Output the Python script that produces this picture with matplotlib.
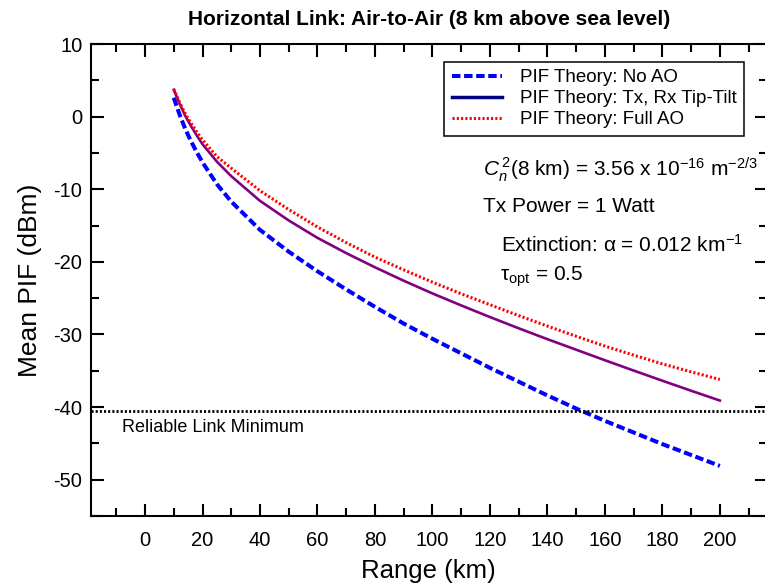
import matplotlib
matplotlib.use("Agg")
import matplotlib.pyplot as plt
from matplotlib.lines import Line2D
from matplotlib.ticker import MultipleLocator

plt.rcParams['font.family'] = ['Liberation Sans', 'DejaVu Sans']
plt.rcParams['mathtext.fontset'] = 'custom'
plt.rcParams['mathtext.rm'] = 'Liberation Sans'
plt.rcParams['mathtext.it'] = 'Liberation Sans:italic'
plt.rcParams['axes.unicode_minus'] = False

range_km = [10, 12, 14, 16, 18, 20, 25, 30, 40, 50, 60, 70, 80, 90, 100, 110, 120, 130, 140, 150,
            160, 170, 180, 190, 200]
no_ao = [2.6, 0.3, -1.7, -3.4, -4.9, -6.3, -9.3, -11.7, -15.6, -18.6, -21.3, -23.8, -26.2, -28.5,
         -30.6, -32.6, -34.6, -36.5, -38.4, -40.2, -41.9, -43.5, -45.1, -46.6, -48.1]
tip_tilt = [3.7, 1.8, 0.1, -1.3, -2.6, -3.8, -6.2, -8.2, -11.6, -14.3, -16.7, -18.8, -20.75, -22.6,
            -24.35, -26.0, -27.6, -29.15, -30.65, -32.1, -33.55, -34.97, -36.37, -37.75, -39.1]
full_ao = [3.8, 2.0, 0.4, -0.9, -2.1, -3.2, -5.5, -7.1, -10.2, -12.8, -15.2, -17.35, -19.35, -21.1,
           -22.8, -24.4, -25.9, -27.4, -28.85, -30.25, -31.6, -32.85, -34.05, -35.15, -36.2]
reliable_min = -40.5

legend_labels = ["PIF Theory: No AO", "PIF Theory: Tx, Rx Tip-Tilt", "PIF Theory: Full AO"]

W, H = 765, 586
fig = plt.figure(figsize=(W / 100, H / 100), dpi=100)
L, R, T, B = 90.7, 767, 44, 516
ax = fig.add_axes([L / W, 1 - B / H, (R - L) / W, (B - T) / H])

def px(x, y):
    return (x / W, 1 - y / H)

blue_ls = (0, (2.1, 0.9))
red_ls = (0, (0.7, 0.7))
ax.plot(range_km, no_ao, color='#0000ff', lw=2.9, ls=blue_ls)
ax.plot(range_km, tip_tilt, color='#800080', lw=1.9)
ax.plot(range_km, full_ao, color='#ff0000', lw=2.2, ls=red_ls)
ax.axhline(reliable_min, color='black', lw=2.0, ls=(0, (0.75, 0.75)))

ax.set_xlim(-18.9, 216.4)
ax.set_ylim(-55, 10)
ax.xaxis.set_major_locator(MultipleLocator(20))
ax.xaxis.set_minor_locator(MultipleLocator(10))
ax.yaxis.set_major_locator(MultipleLocator(10))
ax.yaxis.set_minor_locator(MultipleLocator(5))
ax.tick_params(which='both', direction='in', top=True, right=True, width=1.5, labelsize=14.5)
ax.tick_params(which='major', length=9)
ax.tick_params(which='minor', length=5.5)
ax.tick_params(axis='y', which='major', pad=6)
ax.tick_params(axis='x', which='major', pad=11)
for s in ax.spines.values():
    s.set_linewidth(1.5)

ax.set_xlabel("Range (km)", fontsize=18.5, labelpad=6)
ax.set_ylabel("Mean PIF (dBm)", fontsize=19, labelpad=8)
ax.set_title("Horizontal Link: Air-to-Air (8 km above sea level)", fontsize=15,
             fontweight='bold', pad=14)

handles = [Line2D([], [], color='#0000ff', lw=2.9, ls=blue_ls),
           Line2D([], [], color='#000080', lw=2.5),
           Line2D([], [], color='#ff0000', lw=2.2, ls=red_ls)]
leg = fig.legend(handles, legend_labels, loc='upper left', bbox_to_anchor=px(444, 61.7),
                 fontsize=13.5, frameon=True, fancybox=False, edgecolor='black',
                 borderpad=0.4, labelspacing=0.2, handlelength=2.7, handletextpad=0.95,
                 borderaxespad=0)
leg.get_frame().set_linewidth(1.1)
leg.get_frame().set_alpha(1)

kw = dict(fontsize=15, va='center', ha='left')
fig.text(*px(483, 170), r"$C_n^{\,2}$(8 km) = 3.56 x 10$^{-16}$ m$^{-2/3}$", **kw)
fig.text(*px(483, 207), "Tx Power = 1 Watt", **kw)
fig.text(*px(501, 245), "Extinction: α = 0.012 km$^{-1}$", **kw)
fig.text(*px(500, 277), r"τ$_{\mathrm{opt}}$ = 0.5", **kw)
fig.text(*px(122.5, 427), "Reliable Link Minimum", fontsize=13, va='center', ha='left')

fig.savefig("out.png", dpi=100)
